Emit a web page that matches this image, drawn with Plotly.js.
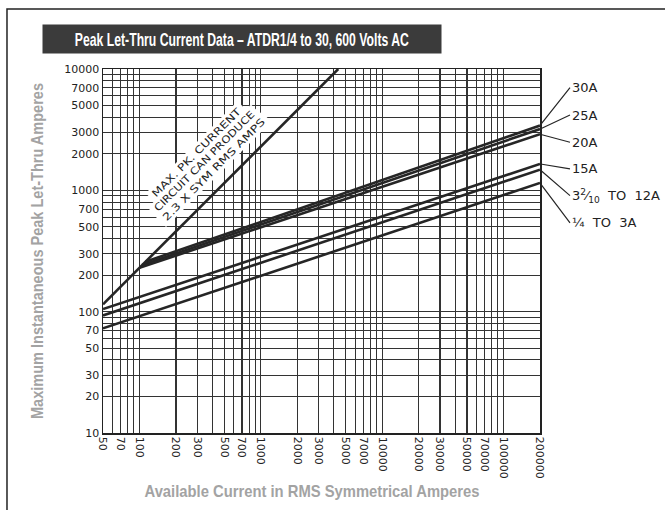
<!DOCTYPE html>
<html>
<head>
<meta charset="utf-8">
<script src="https://cdn.plot.ly/plotly-3.0.1.min.js"></script>
<style>html,body{margin:0;padding:0;background:#fff;}#chart{width:665px;height:510px;}</style>
</head>
<body>
<div id="chart"></div>
<script>
// ---- data ----
const xTickVals = [50,70,100,200,300,500,700,1000,2000,3000,5000,7000,10000,20000,30000,50000,70000,100000,200000];
const xTickText = ['50','70','100','200','300','500','700','1000','2000','3000','5000','7000','10000','20000','30000','50000','70000','100000','200000'];
const yTickVals = [10,20,30,50,70,100,200,300,500,700,1000,2000,3000,5000,7000,10000];
const yTickText = ['10','20','30','50','70','100','200','300','500','700','1000','2000','3000','5000','7000','10000'];

const maxPkX = [50, 4348];
const maxPkY = [115, 10000];

const fuseNames = ['30A','25A','20A','15A','3 2/10 TO 12A','1/4 TO 3A'];
const fuseLabels = ['30A','25A','20A','15A','3<sup>2</sup>⁄<sub>10</sub>  TO  12A','¼  TO  3A'];
const fuse30X = [112, 200000], fuse30Y = [258, 3420];
const fuse25X = [105, 200000], fuse25Y = [242, 3200];
const fuse20X = [100, 200000], fuse20Y = [230, 2900];
const fuse15X = [50, 200000],  fuse15Y = [105, 1650];
const fuse12X = [50, 200000],  fuse12Y = [93, 1480];
const fuse3X  = [50, 200000],  fuse3Y  = [73, 1150];

const fuseXs = [fuse30X, fuse25X, fuse20X, fuse15X, fuse12X, fuse3X];
const fuseYs = [fuse30Y, fuse25Y, fuse20Y, fuse15Y, fuse12Y, fuse3Y];

const chartTitle = 'Peak Let-Thru Current Data – ATDR1/4 to 30, 600 Volts AC';
const xTitle = 'Available Current in RMS Symmetrical Amperes';
const yTitle = 'Maximum Instantaneous Peak Let-Thru Amperes';
const noteLines = ['MAX. PK. CURRENT', 'CIRCUIT CAN PRODUCE', '2.3 X SYM RMS AMPS'];

// grid line positions (every 1..9 multiple of each decade)
function minorVals(lo, hi, skip){
  const out = [];
  for (let d = 1; d <= 1e6; d *= 10){
    for (let m = 1; m <= 9; m++){
      const v = m*d;
      if (v >= lo && v <= hi && skip.indexOf(v) < 0) out.push(v);
    }
  }
  return out;
}
const xMinor = minorVals(50, 200000, xTickVals);
const yMinor = minorVals(10, 10000, yTickVals);

// ---- styles ----
const lineColor = '#262626';
const gridColor = '#333333';
const labelOffsets = [[30,-38],[30,-14],[30,8],[30,5],[30,26],[30,40]];
const notePos = [[0.2133, 0.7714], [0.2334, 0.7473], [0.2535, 0.7231]];
const noteLen = [121, 137, 140];
const boldFont = 'Liberation Sans, Arial, sans-serif';

const traces = [{
  x: maxPkX, y: maxPkY, type: 'scatter', mode: 'lines', name: 'Max peak',
  line: {color: lineColor, width: 2.6}, hoverinfo: 'skip'
}];
fuseXs.forEach((xs, i) => {
  traces.push({x: xs, y: fuseYs[i], type: 'scatter', mode: 'lines', name: fuseNames[i],
    line: {color: lineColor, width: 2.6}, hoverinfo: 'skip'});
});

const annotations = fuseXs.map((xs, i) => ({
  x: Math.log10(xs[xs.length-1]), y: Math.log10(fuseYs[i][fuseYs[i].length-1]),
  xref: 'x', yref: 'y', text: fuseLabels[i], showarrow: true, arrowhead: 0,
  arrowwidth: 1.2, arrowcolor: lineColor, ax: labelOffsets[i][0], ay: labelOffsets[i][1],
  xanchor: 'left', yanchor: 'middle', standoff: 2,
  font: {family: 'DejaVu Sans, sans-serif', size: 13, color: '#222'}
}));

const noteIdx = annotations.length;
noteLines.forEach((t, i) => {
  annotations.push({
    xref: 'paper', yref: 'paper', x: notePos[i][0], y: notePos[i][1], showarrow: false,
    xanchor: 'center', yanchor: 'middle', text: t, textangle: -45,
    width: noteLen[i] + 6, borderpad: 1, bgcolor: '#ffffff',
    font: {family: 'DejaVu Sans, sans-serif', size: 10, color: '#222'}
  });
});

const titleIdx = annotations.length;
annotations.push({
  xref: 'paper', yref: 'paper', x: 0.318, y: 1.0824, showarrow: false,
  xanchor: 'center', yanchor: 'middle',
  text: chartTitle,
  bgcolor: '#3b3b3b', width: 398, height: 28, borderpad: 0,
  font: {family: boldFont, size: 19, color: '#fff', weight: 'bold'}
});

const layout = {
  width: 665, height: 510,
  margin: {l: 103, r: 125, t: 69, b: 77},
  paper_bgcolor: '#fff', plot_bgcolor: '#fff',
  showlegend: false,
  xaxis: {
    type: 'log', range: [Math.log10(50), Math.log10(200000)],
    tickmode: 'array', tickvals: xTickVals, ticktext: xTickText, tickangle: 90,
    tickfont: {family: 'DejaVu Sans, sans-serif', size: 11, color: '#222'},
    showgrid: true, gridcolor: gridColor, gridwidth: 1.2,
    minor: {tickmode: 'array', tickvals: xMinor, showgrid: true, gridcolor: gridColor, gridwidth: 1},
    showline: true, linecolor: '#222', linewidth: 1.5, mirror: true, ticks: '', zeroline: false,
    title: {text: xTitle, standoff: 7,
      font: {family: boldFont, size: 17, color: '#a3a3a3', weight: 'bold'}}
  },
  yaxis: {
    type: 'log', range: [1, 4],
    tickmode: 'array', tickvals: yTickVals, ticktext: yTickText,
    tickfont: {family: 'DejaVu Sans, sans-serif', size: 11, color: '#222'},
    showgrid: true, gridcolor: gridColor, gridwidth: 1.2,
    minor: {tickmode: 'array', tickvals: yMinor, showgrid: true, gridcolor: gridColor, gridwidth: 1},
    showline: true, linecolor: '#222', linewidth: 1.5, mirror: true, ticks: '', zeroline: false,
    title: {text: yTitle, standoff: 16,
      font: {family: boldFont, size: 17, color: '#a3a3a3', weight: 'bold'}}
  },
  annotations: annotations,
  shapes: [{
    type: 'rect', xref: 'paper', yref: 'paper', x0: -0.2197, x1: 1.4, y0: -0.3, y1: 1.1648,
    line: {color: '#222', width: 1.5}, fillcolor: 'rgba(0,0,0,0)', layer: 'below'
  }]
};

function condense(el, len){
  if (!el) return;
  el.setAttribute('textLength', len);
  el.setAttribute('lengthAdjust', 'spacingAndGlyphs');
}

Plotly.newPlot('chart', traces, layout, {staticPlot: true, displayModeBar: false}).then(gd => {
  const xt = gd.querySelector('text.xtitle');
  condense(xt, 335);
  if (xt) xt.setAttribute('x', 312);
  condense(gd.querySelector('text.ytitle'), 336);
  const ann = gd.querySelector('g.annotation[data-index="' + titleIdx + '"] text.annotation-text');
  condense(ann, 334);
  noteLines.forEach((t, i) => {
    condense(gd.querySelector('g.annotation[data-index="' + (noteIdx + i) + '"] text.annotation-text'), noteLen[i]);
  });
});
</script>
</body>
</html>
